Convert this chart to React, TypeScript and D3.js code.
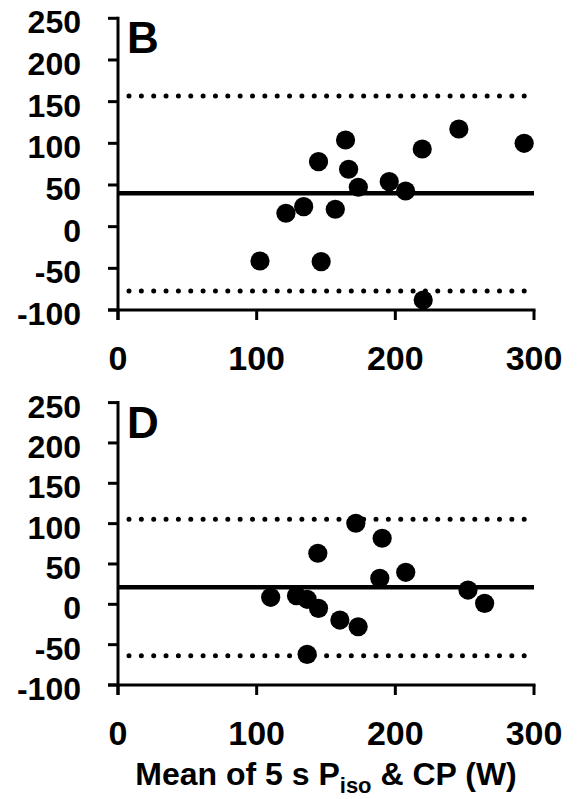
import React from "react";
import * as d3 from "d3";

const W = 578;
const H = 799;

// Panel B data (mean of methods, difference)
const panelBMean = [102.4, 121.1, 133.9, 144.6, 146.5, 156.7, 164.1, 166.3, 173.3, 195.6, 207.4, 219.4, 220.1, 245.8, 292.9];
const panelBDiff = [-41.2, 16.1, 24, 78, -42, 20.9, 104, 68.9, 47.3, 54, 42.8, 93.2, -88, 117.2, 100];
const panelBBias = 40;
const panelBUpper = 156.8;
const panelBLower = -77.2;

// Panel D data
const panelDMean = [110.1, 128.7, 136.4, 144.6, 144.1, 136.4, 160, 173.2, 171.5, 190.5, 188.8, 207.5, 252.4, 264.4];
const panelDDiff = [8.7, 10.7, 6.2, -5, 63.3, -62, -19.5, -27.8, 100.5, 81.9, 32.3, 39.7, 17.7, 1.2];
const panelDBias = 21.1;
const panelDUpper = 105.5;
const panelDLower = -63.8;

const yTicks = [-100, -50, 0, 50, 100, 150, 200, 250];
const xTicks = [0, 100, 200, 300];
const xTitleMain = "Mean of 5 s P";
const xTitleSub = "iso";
const xTitleEnd = " & CP (W)";

const FONT = "'Liberation Sans', Arial, Helvetica, sans-serif";

type PanelProps = {
  letter: string;
  xs: number[];
  ys: number[];
  bias: number;
  upper: number;
  lower: number;
  yTop: number;
  yBottom: number;
};

function Panel({ letter, xs, ys, bias, upper, lower, yTop, yBottom }: PanelProps) {
  const x = d3.scaleLinear().domain([0, 300]).range([118, 534]);
  const y = d3.scaleLinear().domain([-100, 250]).range([yBottom, yTop]);
  const x0 = x(0);
  const x1 = x(300);
  const axisY = y(-100);
  return (
    <g>
      {/* reference lines */}
      <line x1={x0 + 11} x2={x1} y1={y(upper)} y2={y(upper)} stroke="#000" strokeWidth={5} strokeLinecap="round" strokeDasharray="0 12.35" />
      <line x1={x0 + 11} x2={x1} y1={y(lower)} y2={y(lower)} stroke="#000" strokeWidth={5} strokeLinecap="round" strokeDasharray="0 12.35" />
      <line x1={x0} x2={x1} y1={y(bias)} y2={y(bias)} stroke="#000" strokeWidth={4.5} />
      {/* axes */}
      <line x1={x0} x2={x0} y1={y(250) - 1.5} y2={axisY + 10} stroke="#000" strokeWidth={3} />
      <line x1={x0 - 10} x2={x1 + 1.5} y1={axisY} y2={axisY} stroke="#000" strokeWidth={3} />
      {yTicks.map((t) => (
        <g key={"y" + t}>
          <line x1={x0 - 10} x2={x0} y1={y(t)} y2={y(t)} stroke="#000" strokeWidth={3} />
          <text x={81} y={y(t) + 15} textAnchor="end" fontFamily={FONT} fontWeight="bold" fontSize={32}>
            {t}
          </text>
        </g>
      ))}
      {xTicks.map((t) => (
        <g key={"x" + t}>
          <line x1={x(t)} x2={x(t)} y1={axisY} y2={axisY + 10} stroke="#000" strokeWidth={3} />
          <text x={x(t)} y={axisY + 60} textAnchor="middle" fontFamily={FONT} fontWeight="bold" fontSize={34}>
            {t}
          </text>
        </g>
      ))}
      {/* points */}
      {xs.map((v, i) => (
        <circle key={i} cx={x(v)} cy={y(ys[i])} r={9.6} fill="#000" />
      ))}
      <text x={127} y={y(250) + 35} fontFamily={FONT} fontWeight="bold" fontSize={44}>
        {letter}
      </text>
    </g>
  );
}

export default function App() {
  return (
    <svg width={W} height={H} style={{ position: "absolute", left: 0, top: 0, background: "#fff" }}>
      <rect width={W} height={H} fill="#fff" />
      <Panel letter="B" xs={panelBMean} ys={panelBDiff} bias={panelBBias} upper={panelBUpper} lower={panelBLower} yTop={18.3} yBottom={310} />
      <Panel letter="D" xs={panelDMean} ys={panelDDiff} bias={panelDBias} upper={panelDUpper} lower={panelDLower} yTop={402.6} yBottom={685} />
      <text x={326} y={785} textAnchor="middle" fontFamily={FONT} fontWeight="bold" fontSize={32}>
        {xTitleMain}
        <tspan fontSize={22} dy={8}>{xTitleSub}</tspan>
        <tspan dy={-8}>{xTitleEnd}</tspan>
      </text>
    </svg>
  );
}
